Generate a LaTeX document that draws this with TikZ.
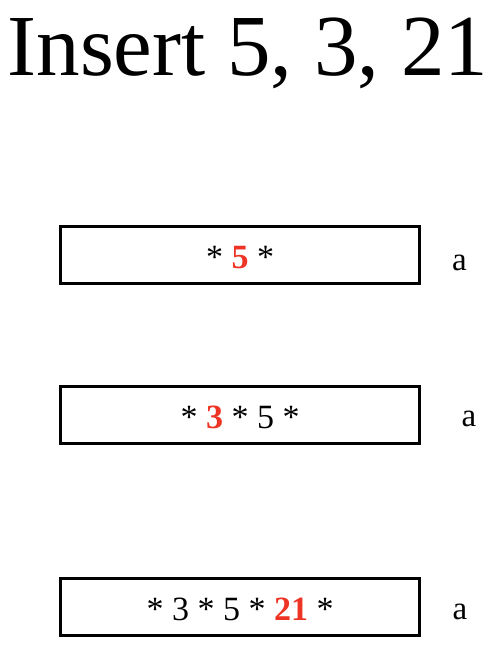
\documentclass[tikz,border=0pt]{standalone}
\usepackage{fontspec}
\setmainfont{Liberation Serif}
\definecolor{newkey}{RGB}{238,52,36}
\newcommand{\newkey}[1]{\textcolor{newkey}{\textbf{#1}}}

\begin{document}
\begin{tikzpicture}[x=1pt,y=-1pt,
    listbox/.style={draw, line width=3.2pt, minimum width=359pt, minimum height=57pt,
      inner sep=0pt, text height=26pt, text depth=0pt, font=\fontsize{34}{34}\selectfont},
    ptrlabel/.style={anchor=base, font=\fontsize{33}{33}\selectfont}]
  \useasboundingbox (0,0) rectangle (498,654);

  \node[anchor=base, font=\fontsize{87}{87}\selectfont] (title) at (248,75) {Insert 5, 3, 21};

  % after inserting 5
  \node[listbox] (list1) at (240,255) {* \newkey{5} *};
  \node[ptrlabel] (ptr1) at (459.5,270) {a};

  % after inserting 3
  \node[listbox] (list2) at (240,415) {* \newkey{3} * 5 *};
  \node[ptrlabel] (ptr2) at (469,426) {a};

  % after inserting 21
  \node[listbox] (list3) at (240,607) {* 3 * 5 * \newkey{21} *};
  \node[ptrlabel] (ptr3) at (460,619) {a};
\end{tikzpicture}
\end{document}
